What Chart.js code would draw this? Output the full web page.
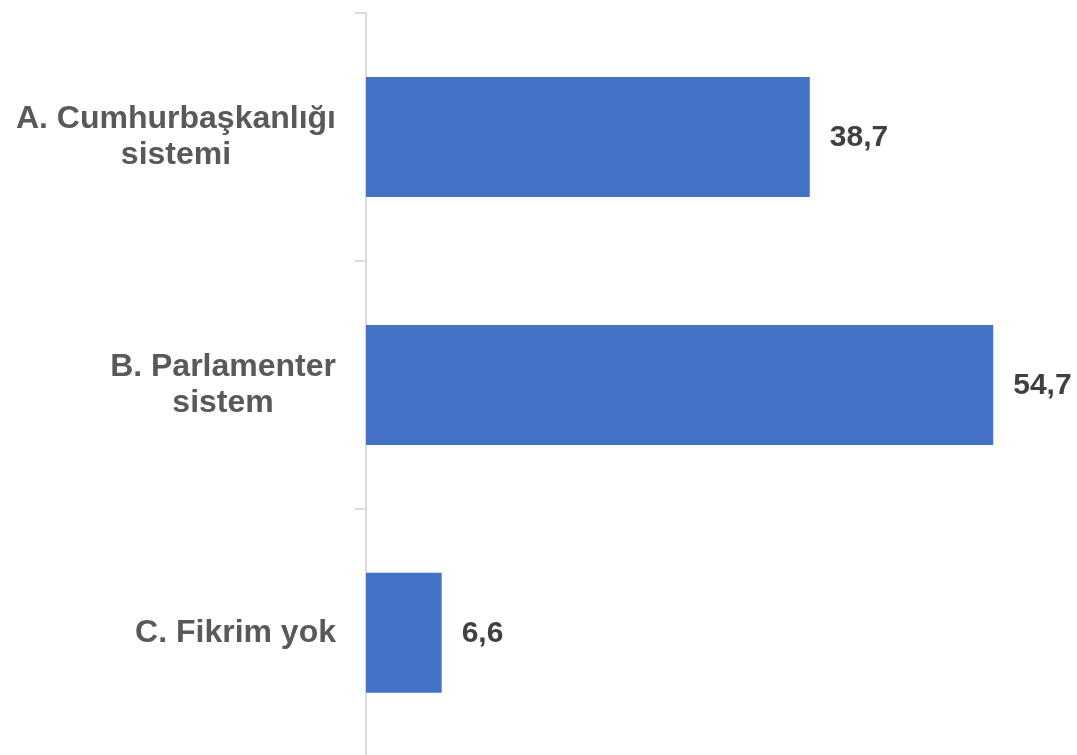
<!DOCTYPE html>
<html>
<head>
<meta charset="utf-8">
<script src="https://cdn.jsdelivr.net/npm/chart.js@4/dist/chart.umd.min.js"></script>
<style>
  html, body { margin: 0; padding: 0; background: #ffffff; overflow: hidden; }
  #wrap { width: 1077px; height: 764px; }
</style>
</head>
<body>
<div id="wrap"><canvas id="c" width="1077" height="764"></canvas></div>
<script>
const categories = [
  ["A. Cumhurbaşkanlığı", "sistemi"],
  ["B. Parlamenter", "sistem"],
  ["C. Fikrim yok"]
];
const values = [38.7, 54.7, 6.6];
const valueLabels = ["38,7", "54,7", "6,6"];

const labelFont = 'bold 32px "Liberation Sans", Arial, sans-serif';
const valueFont = 'bold 30px "Liberation Sans", Arial, sans-serif';

const labelPlugin = {
  id: 'customLabels',
  afterDraw(chart) {
    const ctx = chart.ctx;
    const yScale = chart.scales.y;
    const meta = chart.getDatasetMeta(0);
    ctx.save();
    ctx.font = labelFont;
    ctx.fillStyle = '#595959';
    ctx.textAlign = 'center';
    ctx.textBaseline = 'middle';
    const rightEdge = yScale.right - 30;
    const lineH = 36;
    chart.data.labels.forEach((lab, i) => {
      const lines = Array.isArray(lab) ? lab : [lab];
      const w = Math.max(...lines.map(l => ctx.measureText(l).width));
      const cx = rightEdge - w / 2;
      const cy = yScale.getPixelForValue(i);
      const y0 = cy - (lines.length - 1) * lineH / 2;
      lines.forEach((l, j) => ctx.fillText(l, cx, y0 + j * lineH));
    });
    ctx.font = valueFont;
    ctx.fillStyle = '#404040';
    ctx.textAlign = 'left';
    meta.data.forEach((bar, i) => {
      ctx.fillText(valueLabels[i], bar.x + 20, bar.y + 1);
    });
    ctx.restore();
  }
};

new Chart(document.getElementById('c'), {
  type: 'bar',
  data: {
    labels: categories,
    datasets: [{
      data: values,
      backgroundColor: '#4472C4',
      borderWidth: 0,
      categoryPercentage: 1,
      barPercentage: 0.484
    }]
  },
  options: {
    indexAxis: 'y',
    responsive: false,
    animation: false,
    layout: { padding: { top: 13, bottom: 3, right: 23, left: 0 } },
    plugins: { legend: { display: false }, tooltip: { enabled: false } },
    scales: {
      x: {
        display: false,
        min: 0,
        max: 60
      },
      y: {
        z: 1,
        offset: true,
        grid: {
          offset: true,
          drawOnChartArea: false,
          drawTicks: true,
          tickLength: 11,
          color: '#d9d9d9',
          lineWidth: 2
        },
        border: { color: '#d9d9d9', width: 2 },
        ticks: { callback: () => '', padding: 0 },
        afterFit(scale) { scale.width = 366; }
      }
    }
  },
  plugins: [labelPlugin]
});
</script>
</body>
</html>
